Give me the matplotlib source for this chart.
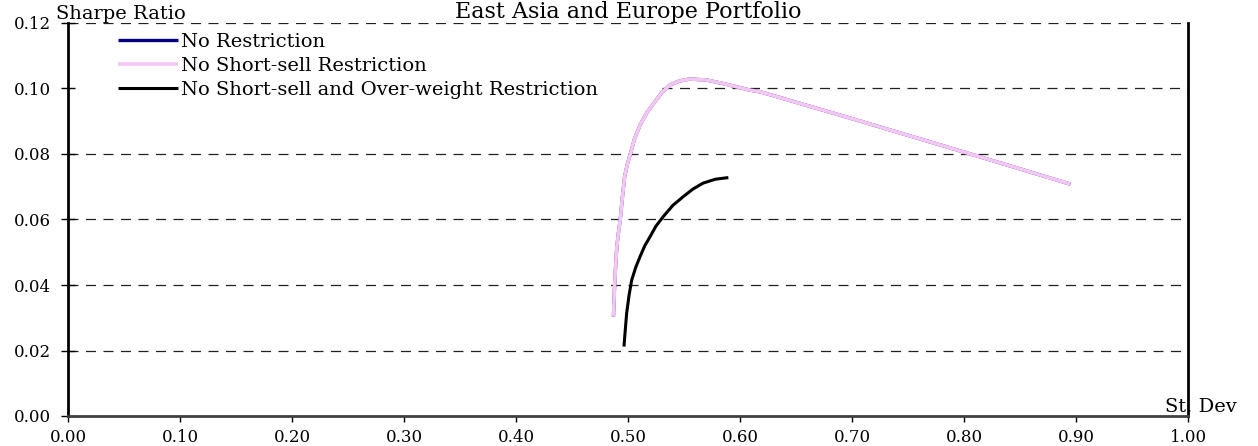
import matplotlib

matplotlib.use("Agg")
import matplotlib.pyplot as plt  # noqa: E402

# St. Dev / Sharpe ratio along each efficient frontier
frontier_std = [0.487, 0.4875, 0.488, 0.489, 0.490, 0.4915, 0.493, 0.495, 0.497,
                0.4995, 0.502, 0.506, 0.511, 0.517, 0.523, 0.530, 0.5375, 0.546,
                0.555, 0.570, 0.585, 0.609, 0.618, 0.700, 0.800, 0.895]
frontier_sharpe = [0.0303, 0.0350, 0.0395, 0.0460, 0.0517, 0.0560, 0.0598, 0.0668,
                   0.0731, 0.0770, 0.0799, 0.0848, 0.0890, 0.0927, 0.0955, 0.0987,
                   0.1011, 0.1023, 0.1029, 0.1026, 0.1015, 0.0995, 0.0990, 0.0908,
                   0.0806, 0.0708]

# the no-short-sell frontier coincides with the unrestricted one
noshort_std = list(frontier_std)
noshort_sharpe = list(frontier_sharpe)

capped_std = [0.4964, 0.4975, 0.4988, 0.501, 0.5033, 0.507, 0.5107, 0.515, 0.5196,
              0.525, 0.5315, 0.540, 0.5494, 0.558, 0.567, 0.578, 0.5896]
capped_sharpe = [0.0212, 0.0260, 0.0314, 0.0370, 0.0415, 0.0455, 0.0486, 0.0520,
                 0.0547, 0.0580, 0.0609, 0.0643, 0.0670, 0.0693, 0.0711, 0.0723, 0.0728]

labels = ["No Restriction", "No Short-sell Restriction",
          "No Short-sell and Over-weight Restriction"]
x_ticks = [0.0, 0.1, 0.2, 0.3, 0.4, 0.5, 0.6, 0.7, 0.8, 0.9, 1.0]
y_ticks = [0.0, 0.02, 0.04, 0.06, 0.08, 0.10, 0.12]

plt.rcParams["font.family"] = ["DejaVu Serif"]

fig = plt.figure(figsize=(12.58, 4.46), dpi=100)
ax = fig.add_axes([68 / 1258, 1 - 416 / 446, 1120 / 1258, 393 / 446])

line_kw = dict(solid_joinstyle="round", solid_capstyle="butt")
ax.plot(frontier_std, frontier_sharpe, color="#000080", lw=2.4, label=labels[0],
        zorder=3, **line_kw)
ax.plot(noshort_std, noshort_sharpe, color="#f4c6f4", lw=2.6, label=labels[1],
        zorder=4, **line_kw)
ax.plot(capped_std, capped_sharpe, color="black", lw=2.2, label=labels[2],
        zorder=5, **line_kw)

ax.set_xlim(0, 1.0)
ax.set_ylim(0, 0.12)
ax.set_xticks(x_ticks)
ax.set_yticks(y_ticks)
ax.set_xticklabels([f"{v:.2f}" for v in x_ticks])
ax.set_yticklabels([f"{v:.2f}" for v in y_ticks])
ax.tick_params(axis="x", direction="out", length=4, width=1, pad=5, labelsize=12)
ax.tick_params(axis="y", direction="inout", length=10, width=1, pad=7, labelsize=12)

# dashed gridlines; the 0.10 one is hidden behind the legend block
for v in y_ticks[1:]:
    start = 0.53 if v == 0.10 else 0.0
    ax.axhline(v, xmin=start, color="#202020", lw=0.9, ls=(0, (8, 6)), zorder=1)

ax.spines["top"].set_visible(False)
ax.spines["left"].set_linewidth(2)
ax.spines["right"].set_linewidth(2)
ax.spines["bottom"].set_linewidth(2)
ax.spines["bottom"].set_color("#404040")

ax.set_title("East Asia and Europe Portfolio", fontsize=16, pad=2)
fig.text(56 / 1258, 1 - 19 / 446, "Sharpe Ratio", fontsize=14, ha="left", va="baseline")
fig.text(1165 / 1258, 1 - 407 / 446, "St. Dev", fontsize=14, ha="left", va="center")

ax.legend(loc="upper left", bbox_to_anchor=(50 / 1120, 0.975), frameon=False,
          fontsize=14, handlelength=3.1, handletextpad=0.15, labelspacing=0.32,
          borderpad=0, borderaxespad=0)

fig.savefig("out.png", dpi=100)
plt.close(fig)
